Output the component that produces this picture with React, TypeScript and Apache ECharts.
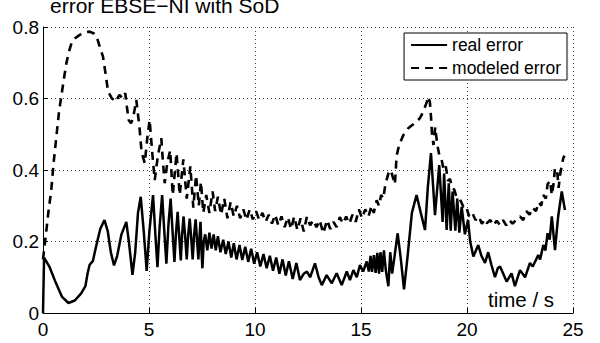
import React, { useEffect, useRef } from "react";
import * as echarts from "echarts";

const xTicks = [0, 5, 10, 15, 20, 25];
const yTicks = [0, 0.2, 0.4, 0.6, 0.8];
const seriesNames = ["real error", "modeled error"];
const titleText = "error EBSE\u2212NI with SoD";
const xAxisLabel = "time / s";

// [time (s), error]
const realError: [number, number][] = [
  [0, 0], [0.05, 0.155], [0.3, 0.13], [0.6, 0.085], [0.9, 0.045], [1.2, 0.028], [1.5, 0.035],
  [1.8, 0.055], [2.0, 0.075], [2.1, 0.11], [2.2, 0.135], [2.35, 0.145], [2.5, 0.185], [2.7, 0.235],
  [2.9, 0.26], [3.05, 0.23], [3.2, 0.17], [3.35, 0.133], [3.5, 0.16], [3.7, 0.22], [3.93, 0.255],
  [4.05, 0.2], [4.22, 0.107], [4.35, 0.17], [4.48, 0.28], [4.61, 0.325], [4.75, 0.23], [4.89, 0.118],
  [5.02, 0.23], [5.19, 0.33], [5.3, 0.22], [5.4, 0.128], [5.5, 0.24], [5.62, 0.33], [5.72, 0.23],
  [5.82, 0.138], [5.92, 0.25], [6.02, 0.32], [6.12, 0.22], [6.2, 0.143], [6.27, 0.22], [6.35, 0.283],
  [6.43, 0.21], [6.5, 0.147], [6.56, 0.22], [6.63, 0.27], [6.71, 0.21], [6.78, 0.15], [6.85, 0.22],
  [6.92, 0.264], [6.99, 0.21], [7.06, 0.15], [7.13, 0.22], [7.2, 0.262], [7.27, 0.2], [7.33, 0.15],
  [7.38, 0.21], [7.43, 0.255], [7.48, 0.17], [7.52, 0.125], [7.58, 0.2], [7.65, 0.22], [7.75, 0.175],
  [7.85, 0.225], [7.95, 0.18], [8.05, 0.22], [8.15, 0.175], [8.25, 0.215], [8.37, 0.17], [8.5, 0.205],
  [8.62, 0.165], [8.75, 0.2], [8.88, 0.155], [9.0, 0.195], [9.13, 0.15], [9.27, 0.19], [9.4, 0.148],
  [9.54, 0.185], [9.68, 0.143], [9.82, 0.18], [9.96, 0.138], [10.1, 0.17], [10.25, 0.13], [10.4, 0.165],
  [10.55, 0.125], [10.7, 0.16], [10.85, 0.118], [11.0, 0.155], [11.15, 0.11], [11.3, 0.15], [11.45, 0.105],
  [11.6, 0.145], [11.78, 0.095], [11.95, 0.14], [12.12, 0.092], [12.3, 0.11], [12.45, 0.116], [12.6, 0.1],
  [12.83, 0.139], [13.0, 0.1], [13.15, 0.078], [13.38, 0.106], [13.62, 0.083], [13.85, 0.111], [14.09, 0.078],
  [14.33, 0.116], [14.48, 0.092], [14.64, 0.12], [14.8, 0.1], [14.95, 0.134], [15.1, 0.116], [15.27, 0.144],
  [15.37, 0.116], [15.45, 0.16], [15.52, 0.115], [15.61, 0.162], [15.69, 0.112], [15.77, 0.168], [15.85, 0.11],
  [15.92, 0.17], [16.0, 0.115], [16.08, 0.175], [16.17, 0.12], [16.29, 0.075], [16.38, 0.17], [16.47, 0.11],
  [16.73, 0.223], [16.88, 0.15], [17.03, 0.066], [17.2, 0.16], [17.4, 0.28], [17.62, 0.33], [17.82, 0.28],
  [18.02, 0.232], [18.15, 0.35], [18.3, 0.447], [18.49, 0.274], [18.69, 0.414], [18.85, 0.255], [18.92, 0.39],
  [19.04, 0.232], [19.14, 0.363], [19.23, 0.23], [19.32, 0.34], [19.45, 0.23], [19.54, 0.32], [19.64, 0.225],
  [19.75, 0.297], [19.9, 0.22], [20.05, 0.26], [20.15, 0.2], [20.3, 0.158], [20.53, 0.19], [20.68, 0.16],
  [20.85, 0.14], [21.0, 0.17], [21.15, 0.135], [21.32, 0.1], [21.45, 0.125], [21.56, 0.13], [21.87, 0.088],
  [22.1, 0.111], [22.26, 0.075], [22.5, 0.12], [22.74, 0.1], [22.97, 0.14], [23.1, 0.13], [23.36, 0.162],
  [23.45, 0.15], [23.6, 0.19], [23.7, 0.175], [23.8, 0.223], [23.9, 0.205], [24.0, 0.27], [24.15, 0.176],
  [24.3, 0.27], [24.47, 0.34], [24.62, 0.288],
];

const modeledError: [number, number][] = [
  [0, 0.15], [0.1, 0.2], [0.25, 0.28], [0.39, 0.344], [0.5, 0.42], [0.63, 0.493], [0.75, 0.56],
  [0.86, 0.605], [1.0, 0.66], [1.1, 0.698], [1.22, 0.73], [1.34, 0.754], [1.5, 0.768], [1.73, 0.778],
  [2.0, 0.785], [2.2, 0.787], [2.4, 0.782], [2.52, 0.775], [2.65, 0.75], [2.83, 0.717], [2.95, 0.67],
  [3.07, 0.619], [3.25, 0.6], [3.46, 0.591], [3.55, 0.605], [3.62, 0.61], [3.75, 0.6], [3.88, 0.615],
  [3.95, 0.58], [4.04, 0.54], [4.15, 0.531], [4.25, 0.545], [4.4, 0.596], [4.55, 0.52], [4.65, 0.45],
  [4.8, 0.419], [4.92, 0.49], [5.03, 0.54], [5.15, 0.45], [5.27, 0.372], [5.42, 0.44], [5.58, 0.489],
  [5.66, 0.42], [5.74, 0.363], [5.86, 0.42], [6.0, 0.455], [6.12, 0.33], [6.3, 0.447], [6.45, 0.33],
  [6.62, 0.43], [6.78, 0.32], [6.95, 0.41], [7.09, 0.295], [7.22, 0.385], [7.35, 0.3], [7.45, 0.367],
  [7.56, 0.28], [7.7, 0.33], [7.85, 0.28], [8.0, 0.34], [8.12, 0.285], [8.25, 0.325], [8.4, 0.275],
  [8.55, 0.32], [8.7, 0.265], [8.85, 0.31], [9.0, 0.27], [9.15, 0.3], [9.3, 0.265], [9.45, 0.29],
  [9.6, 0.26], [9.75, 0.29], [9.9, 0.262], [10.05, 0.285], [10.2, 0.26], [10.35, 0.28], [10.5, 0.255],
  [10.65, 0.275], [10.8, 0.25], [10.95, 0.275], [11.1, 0.245], [11.25, 0.27], [11.4, 0.24], [11.55, 0.268],
  [11.7, 0.235], [11.85, 0.27], [12.0, 0.232], [12.15, 0.265], [12.3, 0.228], [12.45, 0.27], [12.6, 0.245],
  [12.75, 0.26], [12.9, 0.24], [13.05, 0.26], [13.22, 0.223], [13.4, 0.26], [13.55, 0.235], [13.7, 0.255],
  [13.85, 0.24], [14.0, 0.268], [14.15, 0.25], [14.3, 0.27], [14.45, 0.25], [14.6, 0.275], [14.75, 0.255],
  [14.9, 0.29], [15.05, 0.265], [15.2, 0.29], [15.35, 0.27], [15.5, 0.3], [15.6, 0.28], [15.74, 0.315],
  [15.85, 0.3], [15.95, 0.33], [16.05, 0.32], [16.15, 0.36], [16.29, 0.39], [16.4, 0.4], [16.5, 0.38],
  [16.6, 0.36], [16.68, 0.44], [16.8, 0.47], [17.0, 0.498], [17.23, 0.517], [17.4, 0.525], [17.55, 0.531],
  [17.78, 0.545], [17.95, 0.565], [18.1, 0.59], [18.17, 0.605], [18.25, 0.59], [18.3, 0.55], [18.35, 0.5],
  [18.42, 0.47], [18.5, 0.52], [18.6, 0.47], [18.7, 0.44], [18.8, 0.43], [18.9, 0.4], [19.0, 0.41],
  [19.1, 0.37], [19.2, 0.375], [19.3, 0.35], [19.4, 0.345], [19.5, 0.325], [19.65, 0.32], [19.83, 0.297],
  [19.95, 0.3], [20.1, 0.27], [20.25, 0.28], [20.4, 0.26], [20.55, 0.27], [20.7, 0.25], [20.85, 0.262],
  [20.93, 0.251], [21.1, 0.26], [21.25, 0.245], [21.4, 0.258], [21.56, 0.246], [21.7, 0.26], [21.85, 0.245],
  [22.0, 0.26], [22.15, 0.25], [22.34, 0.262], [22.5, 0.27], [22.65, 0.26], [22.8, 0.285], [22.95, 0.275],
  [23.1, 0.295], [23.25, 0.285], [23.4, 0.31], [23.5, 0.3], [23.6, 0.33], [23.72, 0.32], [23.8, 0.36],
  [23.92, 0.37], [24.0, 0.33], [24.08, 0.36], [24.15, 0.405], [24.25, 0.4], [24.32, 0.35], [24.4, 0.39],
  [24.54, 0.433], [24.6, 0.44],
];

const FONT = "'Liberation Sans', Arial, Helvetica, sans-serif";

export default function App() {
  const ref = useRef<HTMLDivElement>(null);
  useEffect(() => {
    if (!ref.current) return;
    const chart = echarts.init(ref.current, undefined, { renderer: "svg" });
    chart.setOption({
      animation: false,
      backgroundColor: "#fff",
      textStyle: { fontFamily: FONT },
      grid: { left: 43, right: 27, top: 27, bottom: 30, containLabel: false },
      legend: {
        data: seriesNames,
        orient: "vertical",
        right: 33,
        top: 33,
        padding: [3, 6, 3, 6],
        itemGap: 5,
        itemWidth: 36,
        itemHeight: 14,
        borderColor: "#000",
        borderWidth: 1,
        borderRadius: 0,
        backgroundColor: "#fff",
        itemStyle: { opacity: 0 },
        textStyle: { fontSize: 17.5, color: "#000", fontFamily: FONT },
      },
      graphic: [
        {
          type: "text",
          left: 50,
          top: -5,
          style: { text: titleText, fontSize: 21, fill: "#000", fontFamily: FONT },
          z: 10,
        },
        {
          type: "text",
          left: 488,
          top: 289,
          style: { text: xAxisLabel, fontSize: 20.5, fill: "#000", fontFamily: FONT },
          z: 10,
        },
      ],
      xAxis: {
        type: "value",
        min: xTicks[0],
        max: xTicks[xTicks.length - 1],
        interval: xTicks[1] - xTicks[0],
        axisLine: { show: true, onZero: false, lineStyle: { color: "#000", width: 1 } },
        axisTick: { show: true, inside: true, length: 5, lineStyle: { color: "#000" } },
        axisLabel: { color: "#000", fontSize: 19, margin: 7, fontFamily: FONT },
        splitLine: { show: true, lineStyle: { color: "#444", type: [1, 3], width: 1 } },
      },
      yAxis: {
        type: "value",
        min: yTicks[0],
        max: yTicks[yTicks.length - 1],
        interval: yTicks[1] - yTicks[0],
        axisLine: { show: true, onZero: false, lineStyle: { color: "#000", width: 1 } },
        axisTick: { show: true, inside: true, length: 5, lineStyle: { color: "#000" } },
        axisLabel: {
          color: "#000",
          fontSize: 19,
          margin: 4,
          fontFamily: FONT,
          formatter: (v: number) => (v === 0 ? "0" : v.toFixed(1)),
        },
        splitLine: { show: true, lineStyle: { color: "#444", type: [1, 3], width: 1 } },
      },
      series: [
        {
          name: seriesNames[0],
          type: "line",
          data: realError,
          symbol: "none",
          lineStyle: { color: "#000", width: 2.5 },
          itemStyle: { color: "#000" },
          z: 3,
        },
        {
          name: seriesNames[1],
          type: "line",
          data: modeledError,
          symbol: "none",
          lineStyle: { color: "#000", width: 2.6, type: [8, 6] },
          itemStyle: { color: "#000" },
          z: 2,
        },
      ],
    });
    return () => chart.dispose();
  }, []);
  return <div ref={ref} style={{ width: 600, height: 343, position: "absolute", left: 0, top: 0 }} />;
}
